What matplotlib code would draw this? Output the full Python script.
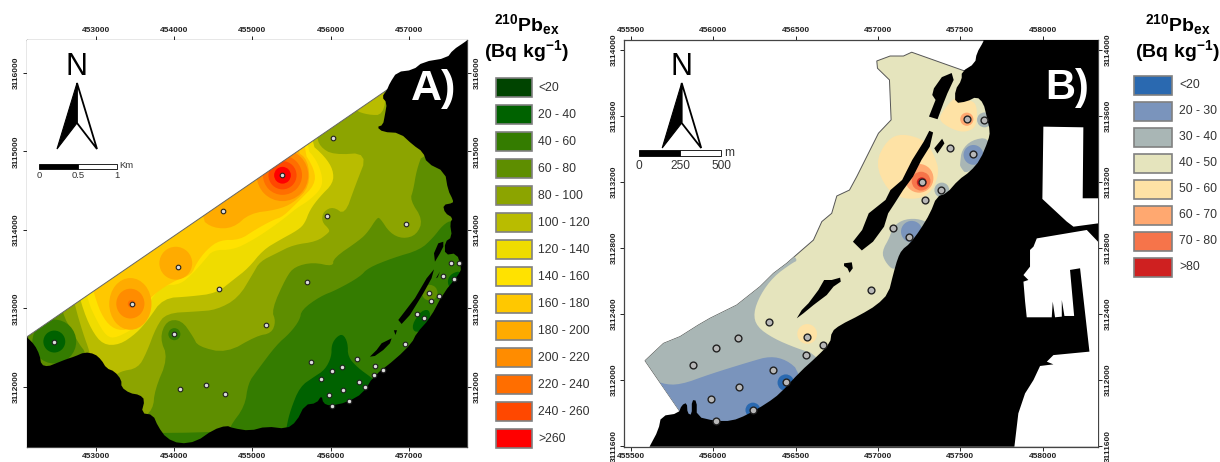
import matplotlib
matplotlib.use("Agg")
import matplotlib.pyplot as plt
from matplotlib.patches import Polygon, Ellipse, Rectangle

plt.rcParams['font.family'] = ['Liberation Sans', 'DejaVu Sans']
plt.rcParams['mathtext.fontset'] = 'custom'
plt.rcParams['mathtext.rm'] = 'Liberation Sans'
plt.rcParams['mathtext.bf'] = 'Liberation Sans:bold'
plt.rcParams['mathtext.default'] = 'regular'

# ---------- legend classes ----------
labels_a = ['<20', '20 - 40', '40 - 60', '60 - 80', '80 - 100', '100 - 120', '120 - 140',
            '140 - 160', '160 - 180', '180 - 200', '200 - 220', '220 - 240', '240 - 260', '>260']
colors_a = ['#004400', '#006200', '#347c00', '#5e8e00', '#8ca400', '#b9bc00', '#efdc00',
            '#ffe200', '#ffc800', '#ffab00', '#ff8c00', '#ff6e00', '#ff4800', '#ff0000']
labels_b = ['<20', '20 - 30', '30 - 40', '40 - 50', '50 - 60', '60 - 70', '70 - 80', '>80']
colors_b = ['#2a69b0', '#7a94bc', '#a9b6b5', '#e5e4bd', '#fee2a5', '#ffa870', '#f6744a', '#cf2020']

# ---------- grid ----------
xticks_a = [453000, 454000, 455000, 456000, 457000]
yticks_a = [3112000, 3113000, 3114000, 3115000, 3116000]
xticks_b = [455500, 456000, 456500, 457000, 457500, 458000]
yticks_b = [3111600, 3112000, 3112400, 3112800, 3113200, 3113600, 3114000]
xlim_a = (452113, 457749); ylim_a = (3111231, 3116422)
xlim_b = (455457, 458337); ylim_b = (3111596, 3114060)

# ---------- panel A: sampling stations (UTM) ----------
sta_a = [(455385,3114697),(454626,3114247),(456025,3115177),(455957,3114174),(456969,3114077),
 (454049,3113528),(454574,3113243),(453456,3113056),(455693,3113341),(455168,3112789),
 (454002,3112670),(452466,3112576),(455744,3112313),(456013,3112198),(456149,3112257),
 (456337,3112355),(455876,3112092),(456568,3112266),(456559,3112155),(456666,3112219),
 (456358,3112066),(456154,3111960),(455983,3111892),(456435,3111990),(456235,3111824),
 (456013,3111760),(454075,3111973),(454408,3112028),(454647,3111913),(456956,3112551),
 (457101,3112925),(457191,3112874),(457284,3113095),(457383,3113154),(457263,3113201),
 (457438,3113413),(457579,3113371),(457541,3113583),(457647,3113583)]

# ---------- panel A: isolines, region above each class limit ----------
above_60 = [(454711,3111408),(454711,3111492),(454903,3111748),(454946,3112045),(455052,3112194),
 (455308,3112534),(455479,3112682),(455607,3112852),(455629,3112980),(455863,3113150),
 (456077,3113235),(456375,3113401),(456478,3113515),(456798,3113643),(457144,3113745),
 (457310,3113898),(457438,3114064),(457553,3114128),(458168,3114128),(458168,3117000),
 (451700,3117000),(451700,3111408)]
above_80 = [(458168,3114999),(457186,3114999),(457101,3114765),(457058,3114510),(457016,3114382),
 (457182,3114128),(457101,3113936),(456926,3113885),(456760,3113958),(456632,3114153),
 (456593,3114153),(456478,3113974),(456375,3113872),(456034,3113639),(456034,3113532),
 (455778,3113588),(455543,3113532),(455436,3113405),(455244,3112980),(455300,3112831),
 (455244,3112682),(455052,3112648),(454668,3112428),(454305,3112512),(454241,3112640),
 (454092,3112852),(453900,3112844),(453815,3112619),(453921,3112364),(453751,3111960),
 (453729,3111705),(453559,3111578),(452867,3112215),(452867,3112440),(452790,3112534),
 (452684,3112725),(452577,3112916),(452406,3113575),(452406,3117000),(458168,3117000)]
above_100 = [(452620,3117000),(455607,3117000),(455821,3115211),(455863,3115062),(456034,3114956),
 (456482,3114986),(456311,3114552),(456183,3114191),(456034,3114298),(455906,3114234),
 (455885,3114106),(455991,3114000),(455970,3113958),(455821,3113851),(455522,3113809),
 (455308,3113702),(455095,3113596),(455010,3113447),(454818,3113129),(454540,3112980),
 (454284,3112959),(453900,3112938),(453772,3112768),(453644,3112428),(453537,3112236),
 (453302,3112194),(453217,3112109),(452940,3112300),(452918,3112449),(452833,3112682),
 (452726,3113044),(452620,3113575)]
above_100_tip = [(456717,3115785),(456674,3115466),(456482,3115466),(456290,3115530),(456461,3115785)]
above_120 = [(452684,3117000),(455714,3117000),(455714,3115126),(455927,3114935),(456034,3114765),
 (456034,3114595),(455863,3114425),(455735,3114255),(455671,3114085),(455586,3114000),
 (455351,3113872),(455138,3113745),(454946,3113511),(454754,3113362),(454540,3113192),
 (454199,3113150),(453857,3113129),(453665,3112852),(453516,3112682),(453302,3112534),
 (453089,3112534),(452940,3112725),(452812,3113044),(452684,3113575)]
above_140 = [(452790,3117000),(455671,3117000),(455671,3115062),(455821,3114892),(455897,3114680),
 (455885,3114531),(455735,3114382),(455564,3114276),(455436,3114170),(455266,3114042),
 (455010,3113872),(454754,3113745),(454498,3113745),(454391,3113618),(454241,3113448),
 (454071,3113299),(453857,3113299),(453644,3113044),(453559,3112789),(453260,3112619),
 (453132,3112640),(453004,3112852),(452897,3113086),(452790,3113575)]
above_160 = [(452876,3117000),(455629,3117000),(455629,3115041),(455799,3114765),(455799,3114574),
 (455607,3114382),(455394,3114170),(455266,3114128),(455031,3114000),(454839,3113872),
 (454583,3113872),(454412,3113745),(454284,3113575),(454220,3113426),(454028,3113362),
 (453815,3113235),(453644,3113086),(453559,3112874),(453431,3112725),(453238,3112725),
 (453089,3112874),(452982,3113150),(452876,3113575)]
above_180 = [(454327,3114149),(454498,3114021),(454754,3114021),(454967,3114212),(455308,3114255),
 (455522,3114340),(455735,3114552),(455714,3114892),(455543,3115020),(455543,3115700),(454327,3115700)]
low_20_40_south = [(455400,3111200),(455436,3111493),(455488,3111705),(455607,3112000),(455788,3112125),
 (455927,3112215),(456012,3112381),(456012,3112534),(456076,3112636),(456158,3112674),(456221,3112559),
 (456221,3112381),(456350,3112240),(456528,3112113),(456800,3111900),(456500,3111300)]
low_20_40_east = [(457677,3113480),(457549,3113446),(457493,3113361),(457518,3113255),(457700,3113300)]
low_20_40_mid = [(457165,3112978),(457284,3112978),(457250,3112750),(457079,3112681),(457037,3112787)]
# class index, centre x, centre y, half width, half height
bullseye_a = [(10, 455385, 3114697, 330, 330), (11, 455385, 3114697, 250, 250), (12, 455385, 3114697, 180, 180),
 (13, 455385, 3114697, 107, 107), (9, 453439, 3113056, 270, 330), (10, 453439, 3113060, 180, 190),
 (11, 453456, 3113056, 50, 50), (9, 454020, 3113575, 210, 210), (2, 454002, 3112670, 77, 77),
 (2, 452466, 3112576, 280, 280), (1, 452466, 3112576, 140, 140), (3, 457268, 3113199, 100, 100)]

# ---------- panel A: land ----------
coast_a = [(452113,3112634),(452214,3112534),(452278,3112406),(452300,3112279),(452385,3112258),
 (452492,3112300),(452620,3112351),(452726,3112385),(452854,3112440),(452982,3112419),(453068,3112343),
 (453132,3112236),(453238,3112194),(453324,3112088),(453324,3111994),(453430,3111918),(453558,3111896),
 (453623,3111833),(453580,3111663),(453729,3111641),(453793,3111493),(453900,3111344),(454071,3111272),
 (454284,3111301),(454498,3111450),(454668,3111505),(454754,3111471),(454967,3111437),(455180,3111493),
 (455436,3111463),(455564,3111556),(455671,3111769),(455821,3111790),(455885,3111888),(455906,3111790),
 (455991,3111756),(456205,3111799),(456418,3111918),(456546,3112130),(456845,3112364),(457037,3112555),
 (457101,3112683),(457272,3112874),(457443,3113193),(457635,3113426),(457677,3113511),(457613,3113703),
 (457463,3113680),(457463,3113846),(457553,3113909),(457527,3114088),(457566,3114152),(457463,3114216),
 (457438,3114318),(457566,3114343),(457566,3114381),(457502,3114509),(457463,3114739),(457233,3114853),
 (457182,3114994),(457054,3115083),(456887,3115236),(456670,3115249),(456593,3115312),(456670,3115338),
 (456695,3115466),(456721,3115619),(456657,3115695),(456721,3115784),(456759,3115874),(456849,3116014),
 (457054,3116040),(457182,3116142),(457489,3116193),(457566,3116295),(457719,3116397),(457749,3116422)]
isle_a1 = [(457442,3113849),(457378,3113829),(457323,3113702),(457335,3113594),(457399,3113702),(457442,3113786)]
isle_a2 = [(457323,3113497),(457229,3113383),(457079,3113128),(456866,3112851),(456909,3112800),
 (457015,3112915),(457186,3113191),(457292,3113383)]
isle_a3 = [(456781,3112617),(456653,3112554),(456589,3112468),(456503,3112383),(456567,3112392),
 (456674,3112468),(456759,3112554)]
isle_a4 = [(457399,3113467),(457348,3113383),(457370,3113395)]
isle_a5 = [(456810,3112720),(456850,3112720),(456830,3112660)]

# ---------- panel B ----------
sta_b = [(457540,3113580),(457647,3113576),(457436,3113408),(457580,3113370),(457266,3113198),
 (457382,3113151),(457286,3113089),(457094,3112923),(457191,3112869),(456958,3112545),
 (456341,3112349),(456152,3112252),(456015,3112196),(455877,3112089),(456361,3112061),
 (456561,3112149),(456669,3112214),(456570,3112263),(456442,3111986),(456158,3111956),
 (455986,3111885),(456240,3111818),(456013,3111754)]
area_b = [(456993,3113933),(457074,3113963),(457155,3113963),(457205,3113986),(457519,3113875),
 (457843,3113818),(457843,3112707),(455920,3111616),(455798,3111808),(455585,3112117),(455697,3112222),
 (455798,3112263),(455909,3112333),(455980,3112374),(456142,3112454),(456284,3112566),(456365,3112646),
 (456446,3112707),(456527,3112778),(456608,3112848),(456659,3112960),(456719,3113010),(456750,3113115),
 (456827,3113151),(456871,3113232),(457003,3113495),(457080,3113576),(457070,3113818),(456997,3113889)]
band_30_40_sw = [(456517,3112727),(456476,3112707),(456365,3112626),(456284,3112515),(456243,3112404),
 (456264,3112323),(456365,3112252),(456507,3112192),(456638,3112151),(456730,3111899),(455920,3111596),
 (455515,3111596),(455515,3112117),(455920,3112505),(456446,3112788)]
band_20_30_sw = [(455616,3112020),(455687,3111976),(455798,3111970),(455980,3112036),(456223,3112111),
 (456345,3112145),(456446,3112121),(456527,3112050),(456568,3111697),(455717,3111657)]
band_30_40_mid = [(457084,3112919),(457145,3112970),(457236,3112980),(457317,3112949),(457337,3112808),
 (457135,3112707),(457094,3112663),(457043,3112717),(457023,3112778),(457074,3112869)]
band_30_40_ne = [(457499,3113313),(457509,3113394),(457570,3113454),(457671,3113471),(457681,3113374),
 (457540,3113242),(457499,3113293)]
band_50_60_ne = [(457367,3113576),(457438,3113525),(457519,3113499),(457590,3113525),(457604,3113596),
 (457596,3113677),(457550,3113697),(457469,3113717),(457398,3113636)]
band_50_60_mid = [(457145,3113495),(457054,3113454),(456983,3113313),(457054,3113151),(457165,3113091),
 (457307,3113111),(457378,3113252),(457337,3113374),(457286,3113454)]
bullseye_b = [(1, 457205, 3112899, 65, 65), (5, 457540, 3113580, 40, 40), (2, 457647, 3113576, 45, 45),
 (1, 457580, 3113364, 60, 60), (5, 457250, 3113222, 87, 87), (6, 457262, 3113205, 57, 57),
 (7, 457266, 3113198, 30, 30), (2, 457388, 3113151, 45, 45), (4, 456570, 3112279, 60, 60),
 (0, 456440, 3111984, 50, 50), (0, 456240, 3111818, 45, 45)]
coast_b = [(455612,3111596),(455666,3111697),(455683,3111782),(455788,3111798),(455808,3111848),(455839,3111863),
 (455843,3111798),(455869,3111788),(455869,3111879),(455899,3111875),(455899,3111778),(456011,3111752),
 (456112,3111752),(456203,3111788),(456325,3111859),(456406,3111919),(456527,3112050),(456628,3112141),
 (456709,3112222),(456719,3112293),(456770,3112333),(456892,3112394),(456993,3112454),(457064,3112525),
 (457094,3112646),(457120,3112737),(457145,3112788),(457195,3112828),(457256,3112909),(457317,3113010),
 (457357,3113111),(457418,3113131),(457489,3113212),(457560,3113263),(457621,3113333),(457671,3113454),
 (457681,3113505),(457661,3113596),(457641,3113677),(457600,3113717),(457540,3113687),(457469,3113677),
 (457469,3113757),(457509,3113818),(457509,3113868),(457590,3113919),(457600,3113980),(457641,3114050),
 (457641,3114060)]
port_b1 = [(458005,3113535),(458248,3113531),(458244,3113101),(458337,3113101),(458337,3112949),
 (458188,3112929),(458147,3112960),(457999,3113097)]
port_b2 = [(457965,3112858),(458269,3112909),(458337,3112838),(458337,3111596),(457829,3111596),
 (457853,3111798),(457894,3111919),(457945,3112000),(457985,3112085),(458066,3112095),(458026,3112111),
 (458066,3112151),(458285,3112172),(458228,3112677),(458167,3112667),(458192,3112388),(458133,3112388),
 (458117,3112485),(458117,3112384),(458076,3112380),(458062,3112475),(458056,3112380),(457904,3112380),
 (457894,3112475),(457884,3112596),(457914,3112606),(457884,3112636),(457924,3112687),(457924,3112788),
 (457945,3112808)]
isle_b1 = [(457448,3113860),(457388,3113835),(457340,3113767),(457330,3113727),(457350,3113697),
 (457310,3113596),(457362,3113580),(457398,3113677),(457422,3113737),(457460,3113818)]
isle_b2 = [(457390,3113462),(457342,3113404),(457361,3113372),(457404,3113434)]
isle_b3 = [(457335,3113500),(457315,3113414),(457264,3113333),(457213,3113232),(457153,3113151),(457102,3113071),
 (457062,3113010),(457037,3112929),(456970,3112838),(456902,3112785),(456848,3112838),(456904,3112909),
 (456944,3113010),(457046,3113091),(457076,3113151),(457147,3113212),(457208,3113333),(457278,3113444),(457312,3113510)]
isle_b4 = [(456794,3112707),(456841,3112713),(456847,3112677),(456827,3112650),(456815,3112677),(456794,3112691)]
isle_b5 = [(456770,3112620),(456774,3112596),(456730,3112566),(456689,3112515),(456649,3112485),(456608,3112454),
 (456547,3112404),(456507,3112374),(456537,3112424),(456578,3112465),(456638,3112545),(456673,3112606),(456719,3112606)]

W, H = 1220, 462
fig = plt.figure(figsize=(W / 100, H / 100), dpi=100, facecolor='white')


def chaikin(pts, n=2, closed=True):
    pts = list(pts)
    for _ in range(n):
        out = []
        m = len(pts)
        for i in range(m if closed else m - 1):
            (x0, y0), (x1, y1) = pts[i], pts[(i + 1) % m]
            out.append((0.75 * x0 + 0.25 * x1, 0.75 * y0 + 0.25 * y1))
            out.append((0.25 * x0 + 0.75 * x1, 0.25 * y0 + 0.75 * y1))
        if not closed:
            out = [pts[0]] + out + [pts[-1]]
        pts = out
    return pts


def make_axes(left, right, top, bottom, xlim, ylim, xt, yt):
    ax = fig.add_axes([left / W, 1 - bottom / H, (right - left) / W, (bottom - top) / H])
    ax.set_xlim(*xlim)
    ax.set_ylim(*ylim)
    ax.set_xticks(xt)
    ax.set_yticks(yt)
    ax.set_xticklabels([str(v) for v in xt])
    ax.set_yticklabels([str(v) for v in yt], rotation=90, va='center')
    ax.tick_params(axis='both', which='both', top=True, bottom=True, left=True, right=True,
                   labeltop=True, labelbottom=True, labelleft=True, labelright=True,
                   length=3, width=0.7, pad=1.6, labelsize=6, colors='#222222')
    for lab in ax.get_xticklabels() + ax.get_yticklabels():
        lab.set_fontweight('bold')
    for s in ax.spines.values():
        s.set_linewidth(0.9)
        s.set_color('#444444')
    return ax


def poly(ax, pts, color, z, clip=None, smooth=2):
    p = Polygon(chaikin(pts, smooth) if smooth else pts, closed=True, facecolor=color, edgecolor='none', zorder=z)
    ax.add_patch(p)
    if clip is not None:
        p.set_clip_path(clip)
    return p


def bulls(ax, items, cols, z, clip=None):
    for k, x, y, rx, ry in items:
        e = Ellipse((x, y), 2 * rx, 2 * ry, facecolor=cols[k], edgecolor='none', zorder=z)
        ax.add_patch(e)
        if clip is not None:
            e.set_clip_path(clip)


# ---------- panel A ----------
ax = make_axes(26.7, 467.3, 40, 447, xlim_a, ylim_a, xticks_a, yticks_a)
ax.set_facecolor(colors_a[2])
for pts, c in [(low_20_40_south, 1), (low_20_40_east, 1), (low_20_40_mid, 1),
               (above_60, 3), (above_80, 4), (above_100, 5), (above_100_tip, 5),
               (above_120, 6), (above_140, 7), (above_160, 8), (above_180, 9)]:
    poly(ax, pts, colors_a[c], 1)
bulls(ax, bullseye_a, colors_a, 2)
wedge = [(xlim_a[0], 3112634), (456721, 3115784), (xlim_a[1], 3115784), (xlim_a[1], ylim_a[1]), (xlim_a[0], ylim_a[1])]
poly(ax, wedge, 'white', 3, smooth=0)
ax.plot([xlim_a[0], 456721], [3112634, 3115784], color='#666666', lw=0.7, zorder=3.5)
land_a = chaikin(coast_a, 1, closed=False) + [(xlim_a[1], ylim_a[0]), (xlim_a[0], ylim_a[0])]
poly(ax, land_a, 'black', 4, smooth=0)
for isl in (isle_a1, isle_a2, isle_a3, isle_a4, isle_a5):
    poly(ax, isl, 'black', 4, smooth=0)
ax.scatter(*zip(*sta_a), s=11, facecolor='#dcdcdc', edgecolor='#222222', linewidth=0.8, zorder=5)

# ---------- panel B ----------
bx = make_axes(624, 1098, 40, 446.7, xlim_b, ylim_b, xticks_b, yticks_b)
area = Polygon(area_b, closed=True, facecolor=colors_b[3], edgecolor='#555555', lw=0.7, zorder=1)
bx.add_patch(area)
for pts, c in [(band_30_40_sw, 2), (band_20_30_sw, 1), (band_30_40_mid, 2), (band_30_40_ne, 2),
               (band_50_60_ne, 4), (band_50_60_mid, 4)]:
    poly(bx, pts, colors_b[c], 2, clip=area)
bulls(bx, bullseye_b, colors_b, 3, clip=area)
land_b = chaikin(coast_b, 1, closed=False) + [(xlim_b[1], ylim_b[1]), (xlim_b[1], ylim_b[0])]
poly(bx, land_b, 'black', 4, smooth=0)
for p in (port_b1, port_b2):
    poly(bx, p, 'white', 5, smooth=0)
for isl in (isle_b1, isle_b2, isle_b3, isle_b4, isle_b5):
    poly(bx, isl, 'black', 5, smooth=0)
bx.scatter(*zip(*sta_b), s=24, facecolor='#b8b8b8', edgecolor='#222222', linewidth=1.0, zorder=6)

# ---------- overlay: north arrows, scale bars, legends, letters ----------
ov = fig.add_axes([0, 0, 1, 1], zorder=10)
ov.set_xlim(0, W)
ov.set_ylim(H, 0)
ov.axis('off')
ov.patch.set_alpha(0)


def north(cx, apex, notch, base, half):
    ov.add_patch(Polygon([(cx, apex), (cx, notch), (cx - half, base)], closed=True, fc='black', ec='black', lw=0.8))
    ov.add_patch(Polygon([(cx, apex), (cx, notch), (cx + half, base)], closed=True, fc='white', ec='black', lw=1.3))
    ov.text(cx, 67, 'N', ha='center', va='center', fontsize=22, color='black')


def scalebar(x0, x1, y0, y1, labs, ylab, fs, unit, ux, uy, ufs):
    xm = (x0 + x1) / 2
    ov.add_patch(Rectangle((x0, y0), xm - x0, y1 - y0, fc='black', ec='black', lw=0.6))
    ov.add_patch(Rectangle((xm, y0), x1 - xm, y1 - y0, fc='white', ec='black', lw=0.6))
    for x, t in zip((x0, xm, x1), labs):
        ov.text(x, ylab, t, ha='center', va='center', fontsize=fs, color='#333333')
    ov.text(ux, uy, unit, ha='center', va='center', fontsize=ufs, color='#333333')


north(77, 83, 123, 149, 20)
north(681.7, 83, 123, 148, 19.5)
scalebar(39, 117, 163.5, 168.5, ['0', '0.5', '1'], 175.5, 6.8, 'Km', 126, 165, 6.8)
scalebar(638.7, 721.3, 150, 156, ['0', '250', '500'], 166, 8.6, 'm', 729, 153, 8.6)


def legend(x0, x1, y0, h, step, labels, cols, tx, cx):
    ov.text(cx, 25, r'$\mathbf{^{210}Pb_{ex}}$', ha='center', va='center', fontsize=14, color='black')
    ov.text(cx, 51, r'$\mathbf{(Bq\ kg^{-1})}$', ha='center', va='center', fontsize=14, color='black')
    for i, (lab, c) in enumerate(zip(labels, cols)):
        y = y0 + i * step
        ov.add_patch(Rectangle((x0, y), x1 - x0, h, fc=c, ec='#808080', lw=1.2))
        ov.text(tx, y + h / 2 + 0.5, lab, ha='left', va='center', fontsize=8.8, color='#333333')


legend(495.5, 532, 77.5, 19.5, 27, labels_a, colors_a, 538, 527)
legend(1133.5, 1172, 75.5, 19, 26, labels_b, colors_b, 1179, 1178)

ov.text(434, 89, 'A)', ha='center', va='center', fontsize=31, fontweight='bold', color='white')
ov.text(1067, 88, 'B)', ha='center', va='center', fontsize=30, fontweight='bold', color='white')

fig.savefig('out.png', dpi=100)
